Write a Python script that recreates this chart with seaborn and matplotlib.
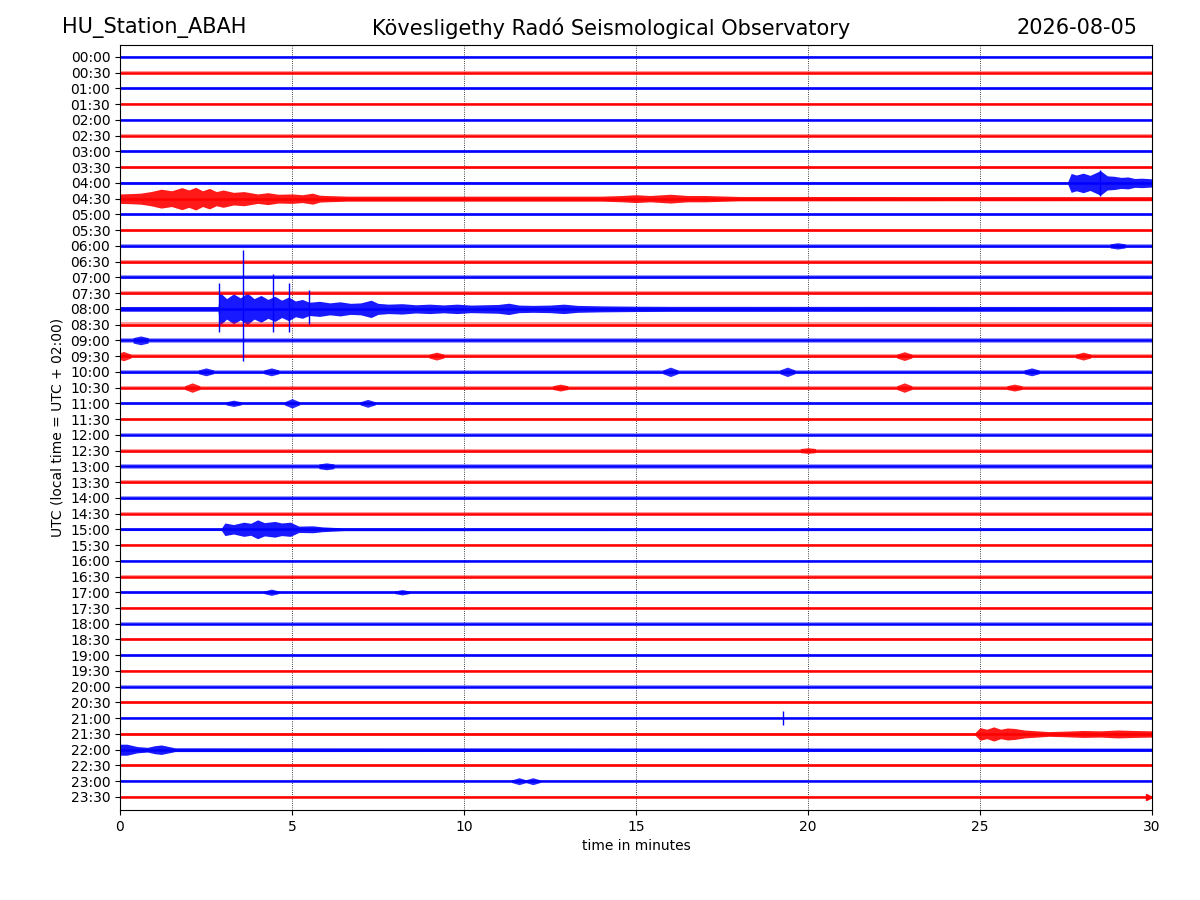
import numpy as np
import pandas as pd
import matplotlib
matplotlib.use("Agg")
import matplotlib.pyplot as plt
import seaborn as sns

# rows of the helicorder, one every 30 minutes
row_labels = ["%02d:%02d" % (h, m) for h in range(24) for m in (0, 30)]
row_colors = ["blue" if i % 2 == 0 else "red" for i in range(48)]

# background noise half-width of each trace (in row units)
noise_amp = [0.08, 0.09, 0.09, 0.08, 0.09, 0.08, 0.09, 0.09, 0.08, 0.13,
             0.11, 0.10, 0.13, 0.13, 0.13, 0.13, 0.15, 0.16, 0.17, 0.12,
             0.12, 0.12, 0.10, 0.10, 0.09, 0.13, 0.15, 0.13, 0.13, 0.10,
             0.08, 0.08, 0.08, 0.08, 0.08, 0.08, 0.08, 0.08, 0.09, 0.09,
             0.08, 0.07, 0.08, 0.07, 0.10, 0.08, 0.08, 0.08]

# quakes: envelope knots (minute, half-width) per row
event_rows = [8, 9, 16, 30, 43, 44]
event_times = [
    [0, 27.55, 27.65, 27.8, 28.0, 28.2, 28.5, 28.7, 28.9, 29.1, 29.3, 29.5, 29.7, 30],
    [0, 0.3, 0.6, 0.9, 1.2, 1.5, 1.8, 2.0, 2.2, 2.4, 2.6, 2.8, 3.0, 3.3, 3.6, 4.0, 4.3, 4.6, 5.0, 5.3, 5.6, 5.8, 6.0, 6.6,
     14.0, 14.6, 15.0, 15.4, 16.0, 16.5, 17.0, 18.0, 30],
    [0, 2.85, 2.9, 3.1, 3.3, 3.5, 3.7, 3.9, 4.1, 4.3, 4.5, 4.7, 4.9, 5.1, 5.3, 5.5, 5.8, 6.1, 6.4, 6.7, 7.0, 7.3,
     7.5, 7.8, 8.2, 8.6, 9.0, 9.4, 9.8, 10.2, 10.6, 11.0, 11.3, 11.6, 12.0, 12.5, 12.9, 13.3, 14.0, 15.0, 16.0, 18.0, 30],
    [0, 2.95, 3.05, 3.3, 3.6, 3.8, 4.0, 4.2, 4.5, 4.7, 4.95, 5.2, 5.6, 5.9, 6.5, 30],
    [0, 24.85, 25.0, 25.2, 25.4, 25.6, 25.8, 26.0, 26.3, 27.0, 27.5, 28.0, 28.5, 29.0, 29.5, 30],
    [0, 0.2, 0.5, 0.8, 1.0, 1.2, 1.6, 30],
]
event_amps = [
    [0.07, 0.07, 0.6, 0.5, 0.62, 0.48, 0.78, 0.45, 0.42, 0.35, 0.38, 0.28, 0.3, 0.26],
    [0.3, 0.32, 0.35, 0.45, 0.6, 0.5, 0.7, 0.55, 0.72, 0.5, 0.65, 0.45, 0.55, 0.4, 0.45, 0.3, 0.38, 0.28, 0.3, 0.25, 0.35,
     0.22, 0.2, 0.16, 0.16, 0.2, 0.25, 0.2, 0.28, 0.2, 0.2, 0.14, 0.13],
    [0.15, 0.15, 1.05, 0.65, 0.95, 0.7, 1.0, 0.65, 0.85, 0.6, 0.8, 0.55, 0.75, 0.5, 0.6, 0.42, 0.48, 0.38, 0.45, 0.35, 0.38,
     0.55, 0.35, 0.3, 0.33, 0.26, 0.3, 0.25, 0.3, 0.24, 0.26, 0.28, 0.36, 0.24, 0.22, 0.24, 0.3, 0.22, 0.19, 0.17, 0.16, 0.16, 0.15],
    [0.08, 0.08, 0.4, 0.3, 0.45, 0.38, 0.6, 0.42, 0.5, 0.4, 0.45, 0.2, 0.22, 0.15, 0.09, 0.08],
    [0.07, 0.07, 0.4, 0.3, 0.45, 0.3, 0.38, 0.35, 0.25, 0.15, 0.18, 0.22, 0.2, 0.25, 0.22, 0.2],
    [0.35, 0.35, 0.2, 0.15, 0.25, 0.3, 0.12, 0.1],
]

# short bursts: row, minute, half-width
burst_rows = [18, 19, 19, 19, 19, 20, 20, 20, 20, 20, 21, 21, 21, 21, 22, 22, 22, 34, 34, 46, 46, 12, 25, 26]
burst_times = [0.6, 0.1, 9.2, 22.8, 28.0, 2.5, 4.4, 16.0, 19.4, 26.5, 2.1, 12.8, 22.8, 26.0, 3.3, 5.0, 7.2, 4.4, 8.2, 11.6, 12.0, 29.0, 20.0, 6.0]
burst_amps = [0.28, 0.3, 0.25, 0.28, 0.25, 0.25, 0.25, 0.3, 0.3, 0.25, 0.3, 0.22, 0.3, 0.22, 0.2, 0.3, 0.25, 0.2, 0.17, 0.22, 0.22, 0.2, 0.18, 0.22]

# single large spikes: row, minute, top, bottom (row units from the baseline)
spike_rows = [16, 16, 16, 16, 16, 8, 42]
spike_times = [3.58, 4.45, 2.88, 4.9, 5.5, 28.5, 19.27]
spike_tops = [-3.75, -2.2, -1.65, -1.65, -1.2, -0.85, -0.45]
spike_bottoms = [3.3, 1.5, 1.5, 1.5, 0.95, 0.8, 0.45]

sns.set_style("ticks", {"axes.edgecolor": "black", "xtick.color": "black",
                        "ytick.color": "black", "text.color": "black",
                        "axes.labelcolor": "black"})
plt.rcParams['font.family'] = ['DejaVu Sans']

fig = plt.figure(figsize=(12, 9), dpi=100)
ax = fig.add_axes([0.1, 0.1, 0.86, 0.85])

for i in range(48):
    c = row_colors[i]
    if i in event_rows:
        k = event_rows.index(i)
        t = np.array(event_times[k])
        a = np.array(event_amps[k])
        alpha = 0.9
    else:
        t = np.array([0, 30])
        a = np.array([noise_amp[i], noise_amp[i]])
        alpha = 0.4
    ax.fill_between(t, i - a, i + a, color=c, alpha=alpha, linewidth=0)
    sns.lineplot(x=[0, 30], y=[i, i], color=c, linewidth=1.8, ax=ax)

bursts = pd.DataFrame({"row": burst_rows, "t": burst_times, "amp": burst_amps})
for _, b in bursts.iterrows():
    r = int(b["row"])
    base = noise_amp[r]
    tt = [b["t"] - 0.22, b["t"], b["t"] + 0.22]
    aa = np.array([base, b["amp"], base])
    ax.fill_between(tt, r - aa, r + aa, color=row_colors[r], alpha=0.85, linewidth=0)

for r, t, top, bot in zip(spike_rows, spike_times, spike_tops, spike_bottoms):
    ax.vlines(t, r + top, r + bot, color=row_colors[r], linewidth=1.0)

# end-of-data marker on the last trace
ax.plot([29.9], [47], marker=">", color="red", markersize=4)

ax.set_xlim(0, 30)
ax.set_ylim(47.83, -0.76)
ax.set_xticks([0, 5, 10, 15, 20, 25, 30])
ax.set_yticks(range(48))
ax.set_yticklabels(row_labels)
ax.grid(axis="x", color="black", linestyle=":", linewidth=0.6)
ax.set_xlabel("time in minutes", fontsize=10)
ax.set_ylabel("UTC (local time = UTC + 02:00)", fontsize=10)
ax.tick_params(labelsize=10)

fig.text(0.052, 0.969, "HU_Station_ABAH", fontsize=15, ha="left", va="center")
fig.text(0.509, 0.969, "Kövesligethy Radó Seismological Observatory", fontsize=15, ha="center", va="center")
fig.text(0.9475, 0.969, "2026-08-05", fontsize=15, ha="right", va="center")

fig.savefig("out.png", dpi=100)
